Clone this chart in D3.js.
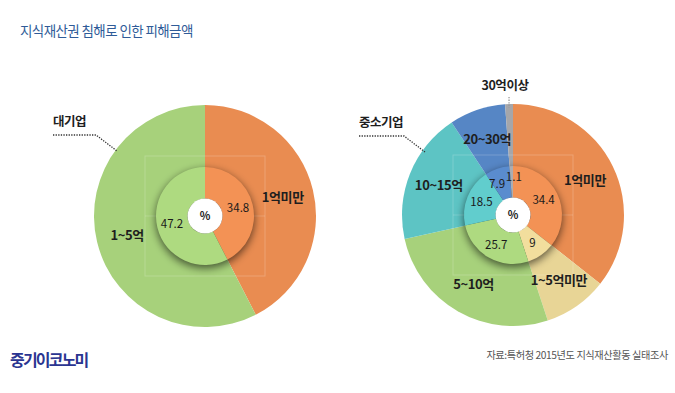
<!DOCTYPE html>
<html>
<head>
<meta charset="utf-8">
<script src="https://cdn.jsdelivr.net/npm/d3@7"></script>
<style>
  body { margin: 0; background: #fff; }
  svg { display: block; font-family: 'Noto Sans CJK KR', 'Noto Sans', sans-serif; }
</style>
</head>
<body>
<svg id="chart" width="675" height="393"></svg>
<script>
// 대기업 (large companies)
const bigCats = ['1억미만', '1~5억'];
const bigValues = [34.8, 47.2];
const bigColors = ['#e98c51', '#a7d17b'];

// 중소기업 (SMEs)
const smeCats = ['1억미만', '1~5억미만', '5~10억', '10~15억', '20~30억', '30억이상'];
const smeValues = [34.4, 9, 25.7, 18.5, 7.9, 1.1];
const smeColors = ['#e98c51', '#e8d596', '#a7d17b', '#5dc4c4', '#5686c5', '#a5a6aa'];

const titleText = '지식재산권 침해로 인한 피해금액';
const sourceText = '자료:특허청 2015년도 지식재산활동 실태조사';
const logoText = '중기이코노미';

const svg = d3.select('#chart');

// drop shadow under the inner ring
const defs = svg.append('defs');
const f = defs.append('filter').attr('id', 'innerShadow')
  .attr('x', '-50%').attr('y', '-50%').attr('width', '200%').attr('height', '200%');
f.append('feGaussianBlur').attr('in', 'SourceAlpha').attr('stdDeviation', 4);
f.append('feOffset').attr('dx', 0).attr('dy', 3).attr('result', 'blur');
f.append('feComponentTransfer').append('feFuncA').attr('type', 'linear').attr('slope', 0.6);

svg.append('text')
  .attr('x', 20).attr('y', 36)
  .attr('fill', '#2f5b98')
  .attr('font-size', 13.5).attr('letter-spacing', -0.6)
  .text(titleText);

const R = 111, rIn = 49, rHole = 17.5;

function drawDonut(cx, cy, cats, values, colors) {
  const g = svg.append('g').attr('transform', `translate(${cx},${cy})`);
  const data = cats.map((c, i) => ({cat: c, value: values[i], color: colors[i]}));
  const pie = d3.pie().value(d => d.value).sort(null);
  const arcs = pie(data);
  const outer = d3.arc().innerRadius(0).outerRadius(R);
  const inner = d3.arc().innerRadius(rHole).outerRadius(rIn);

  g.selectAll('path.outer')
    .data(arcs).enter().append('path')
    .attr('class', 'outer')
    .attr('fill', d => d.data.color)
    .attr('d', outer);

  // faint guide square
  g.append('rect')
    .attr('x', -60).attr('y', -60).attr('width', 120).attr('height', 120)
    .attr('fill', 'none').attr('stroke', 'rgba(255,255,255,0.2)').attr('stroke-width', 1);
  g.append('line')
    .attr('x1', -60).attr('x2', 60).attr('y1', 0).attr('y2', 0)
    .attr('stroke', 'rgba(255,255,255,0.18)');

  g.append('circle').attr('r', rIn).attr('fill', '#000')
    .attr('filter', 'url(#innerShadow)');

  g.selectAll('path.inner')
    .data(arcs).enter().append('path')
    .attr('class', 'inner')
    .attr('fill', d => d3.color(d.data.color).brighter(0.12))
    .attr('d', inner);

  g.append('circle').attr('r', rHole).attr('fill', '#fff');
  g.append('text')
    .attr('text-anchor', 'middle').attr('dy', '0.36em')
    .attr('font-size', 11).attr('font-weight', 'bold').attr('fill', '#222')
    .text('%');

  const valArc = d3.arc().innerRadius(34).outerRadius(34);
  g.selectAll('text.val')
    .data(arcs).enter().append('text')
    .attr('class', 'val')
    .attr('transform', d => {
      let [x, y] = valArc.centroid(d);
      if (d.value < 5) { x += 2; y -= 4; }
      else if (d.value < 10 && d.index > 0 && d.index === arcs.length - 2) { x -= 5; y += 1; }
      return `translate(${x},${y})`;
    })
    .attr('text-anchor', 'middle').attr('dy', '0.36em')
    .attr('font-size', 11.5).attr('fill', '#1a1a1a')
    .text(d => d.data.value);

  const labArc = d3.arc().innerRadius(80).outerRadius(80);
  g.selectAll('text.lab')
    .data(arcs.filter(d => d.value >= 5)).enter().append('text')
    .attr('class', 'lab')
    .attr('transform', d => `translate(${labArc.centroid(d)})`)
    .attr('text-anchor', 'middle').attr('dy', '0.36em')
    .attr('font-size', 13).attr('font-weight', 'bold').attr('fill', '#1e1e1e')
    .attr('letter-spacing', -0.4)
    .text(d => d.data.cat);

  // tiny slices get a label above the ring with a dotted pointer
  arcs.filter(d => d.value < 5).forEach(d => {
    const a = (d.startAngle + d.endAngle) / 2;
    const x = Math.sin(a) * R;
    const yTop = -Math.cos(a) * R;
    g.append('line')
      .attr('x1', x).attr('x2', x).attr('y1', -118).attr('y2', yTop + 4)
      .attr('stroke', '#999').attr('stroke-width', 1.3).attr('stroke-dasharray', '1.3,1.3');
    g.append('text')
      .attr('x', x - 4).attr('y', -125)
      .attr('text-anchor', 'middle')
      .attr('font-size', 12.5).attr('font-weight', 'bold').attr('fill', '#1e1e1e')
      .attr('letter-spacing', -0.4)
      .text(d.data.cat);
  });
  return g;
}

function groupLabel(x, y, name, elbowX, endX, endY) {
  svg.append('text')
    .attr('x', x).attr('y', y)
    .attr('font-size', 12.5).attr('font-weight', 'bold').attr('fill', '#1e1e1e')
    .attr('letter-spacing', -0.5)
    .text(name);
  svg.append('path')
    .attr('d', `M${x},${y + 9}H${elbowX}L${endX},${endY}`)
    .attr('fill', 'none').attr('stroke', '#333').attr('stroke-width', 1.3)
    .attr('stroke-dasharray', '1.3,1.3');
}

drawDonut(205, 216, bigCats, bigValues, bigColors);
drawDonut(513, 215, smeCats, smeValues, smeColors);

groupLabel(53, 126, '대기업', 96, 117, 151);
groupLabel(359, 127, '중소기업', 404, 425, 152);

svg.append('text')
  .attr('x', 10).attr('y', 366)
  .attr('font-size', 16).attr('font-weight', 'bold').attr('fill', '#2b3591')
  .attr('letter-spacing', -1.8)
  .text(logoText);

svg.append('text')
  .attr('x', 668).attr('y', 359)
  .attr('text-anchor', 'end')
  .attr('font-size', 10.2).attr('fill', '#555').attr('letter-spacing', -0.4)
  .text(sourceText);
</script>
</body>
</html>
